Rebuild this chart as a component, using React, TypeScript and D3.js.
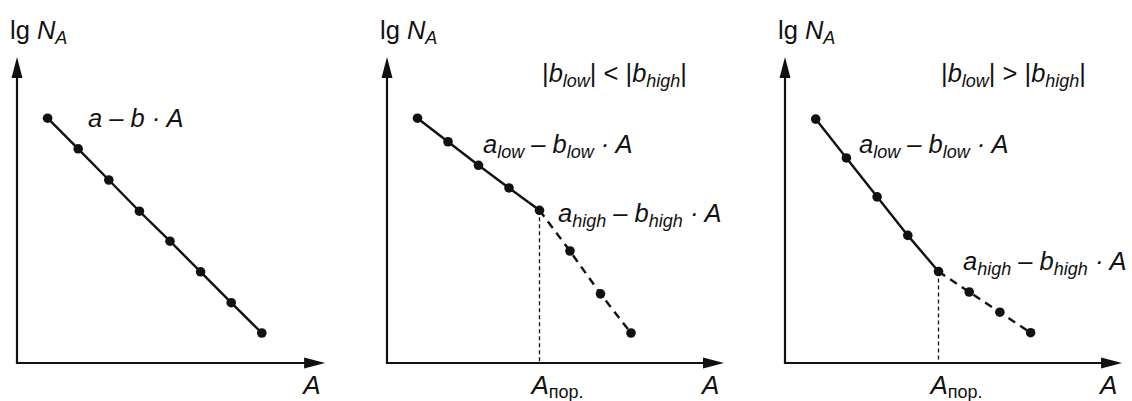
import React from "react";
import * as d3 from "d3";

// Mass number steps (A) shared by all three panels
const aValues = [1, 2, 3, 4, 5, 6, 7, 8];

// lg N_A for a single linear law
const singleLaw = [8.0, 7.0, 5.98, 4.96, 3.98, 2.98, 1.97, 0.98];
// Two regimes, the steeper one after the threshold
const steeperHigh = [8.0, 7.23, 6.46, 5.72, 4.99, 3.66, 2.26, 0.98];
// Two regimes, the flatter one after the threshold
const flatterHigh = [7.97, 6.7, 5.43, 4.17, 2.99, 2.32, 1.66, 0.99];

// Index of the threshold point A_пор.
const thresholdIndex = 4;

const FONT = "'Liberation Sans', Arial, Helvetica, sans-serif";
const TEXT = 25.5;
const SUB = 18;

type Panel = {
  ox: number;
  step: number;
  xMax: number;
  values: number[];
  split: number | null;
};

const panels: Panel[] = [
  { ox: 17, step: 30.6, xMax: 10.07, values: singleLaw, split: null },
  { ox: 387, step: 30.5, xMax: 11.05, values: steeperHigh, split: thresholdIndex },
  { ox: 785, step: 30.7, xMax: 10.98, values: flatterHigh, split: thresholdIndex },
];

const Y0 = 363;
const yScale = d3.scaleLinear().domain([0, 10]).range([Y0, 57]);

function Formula({ x, y, sub }: { x: number; y: number; sub?: string }) {
  if (!sub) {
    return (
      <text x={x} y={y} fontFamily={FONT} fontSize={TEXT} fontStyle="italic" fill="#111">
        a – b · A
      </text>
    );
  }
  return (
    <text x={x} y={y} fontFamily={FONT} fontSize={TEXT} fontStyle="italic" fill="#111">
      <tspan>a</tspan>
      <tspan fontSize={SUB} dy={5}>{sub}</tspan>
      <tspan dy={-5}> – b</tspan>
      <tspan fontSize={SUB} dy={5}>{sub}</tspan>
      <tspan dy={-5}> · A</tspan>
    </text>
  );
}

function Relation({ x, y, op }: { x: number; y: number; op: string }) {
  return (
    <text x={x} y={y} fontFamily={FONT} fontSize={TEXT} fill="#111">
      <tspan>|</tspan>
      <tspan fontStyle="italic">b</tspan>
      <tspan fontStyle="italic" fontSize={SUB} dy={5}>low</tspan>
      <tspan dy={-5}>{`| ${op} |`}</tspan>
      <tspan fontStyle="italic">b</tspan>
      <tspan fontStyle="italic" fontSize={SUB} dy={5}>high</tspan>
      <tspan dy={-5}>|</tspan>
    </text>
  );
}

function PanelView({ p, idx }: { p: Panel; idx: number }) {
  const x = d3.scaleLinear().domain([0, 1]).range([p.ox, p.ox + p.step]);
  const line = d3
    .line<number>()
    .x((_, i) => x(aValues[i]))
    .y((v) => yScale(v));
  const yTop = yScale(10);
  const xEnd = x(p.xMax);
  const solidVals = p.split === null ? p.values : p.values.slice(0, p.split + 1);
  const dashedIdx = p.split === null ? [] : aValues.slice(p.split).map((_, k) => k + (p.split as number));

  const dashedLine = d3
    .line<number>()
    .x((i) => x(aValues[i]))
    .y((i) => yScale(p.values[i]));

  return (
    <g>
      {/* axes */}
      <line x1={p.ox} y1={Y0} x2={p.ox} y2={yTop + 18} stroke="#111" strokeWidth={2.2} />
      <path d={`M${p.ox},${yTop} L${p.ox - 5.5},${yTop + 21} L${p.ox + 5.5},${yTop + 21} Z`} fill="#111" />
      <line x1={p.ox - 1.1} y1={Y0} x2={xEnd - 18} y2={Y0} stroke="#111" strokeWidth={2.2} />
      <path d={`M${xEnd},${Y0} L${xEnd - 21},${Y0 - 5.5} L${xEnd - 21},${Y0 + 5.5} Z`} fill="#111" />

      {/* axis titles */}
      <text x={p.ox - 7} y={39} fontFamily={FONT} fontSize={25.5} fill="#111">
        <tspan>lg </tspan>
        <tspan fontStyle="italic">N</tspan>
        <tspan fontStyle="italic" fontSize={18} dy={5}>A</tspan>
      </text>
      <text x={xEnd - 22} y={394} fontFamily={FONT} fontSize={26} fontStyle="italic" fill="#111">
        A
      </text>

      {/* threshold */}
      {p.split !== null && (
        <g>
          <line
            x1={x(aValues[p.split])}
            x2={x(aValues[p.split])}
            y1={yScale(p.values[p.split])}
            y2={Y0}
            stroke="#111"
            strokeWidth={1.3}
            strokeDasharray="4,3"
          />
          <text x={x(aValues[p.split]) - 8} y={394} fontFamily={FONT} fontSize={26} fill="#111">
            <tspan fontStyle="italic">A</tspan>
            <tspan fontSize={18} dy={4}>пор.</tspan>
          </text>
        </g>
      )}

      {/* data lines */}
      <path d={line(solidVals) || ""} fill="none" stroke="#111" strokeWidth={2.4} />
      {dashedIdx.length > 0 && (
        <path
          d={dashedLine(dashedIdx) || ""}
          fill="none"
          stroke="#111"
          strokeWidth={2.4}
          strokeDasharray="8,6"
        />
      )}
      {p.values.map((v, i) => (
        <circle key={i} cx={x(aValues[i])} cy={yScale(v)} r={4.8} fill="#111" />
      ))}

      {/* formulas */}
      {idx === 0 && <Formula x={88} y={127} />}
      {idx === 1 && (
        <g>
          <Relation x={542} y={82} op="<" />
          <Formula x={483} y={153} sub="low" />
          <Formula x={558} y={222} sub="high" />
        </g>
      )}
      {idx === 2 && (
        <g>
          <Relation x={941} y={82} op=">" />
          <Formula x={859} y={153} sub="low" />
          <Formula x={963} y={270} sub="high" />
        </g>
      )}
    </g>
  );
}

export default function App() {
  return (
    <svg width={1132} height={401} style={{ display: "block", position: "absolute", left: 0, top: 0 }}>
      <rect width={1132} height={401} fill="#fff" />
      {panels.map((p, i) => (
        <PanelView key={i} p={p} idx={i} />
      ))}
    </svg>
  );
}
